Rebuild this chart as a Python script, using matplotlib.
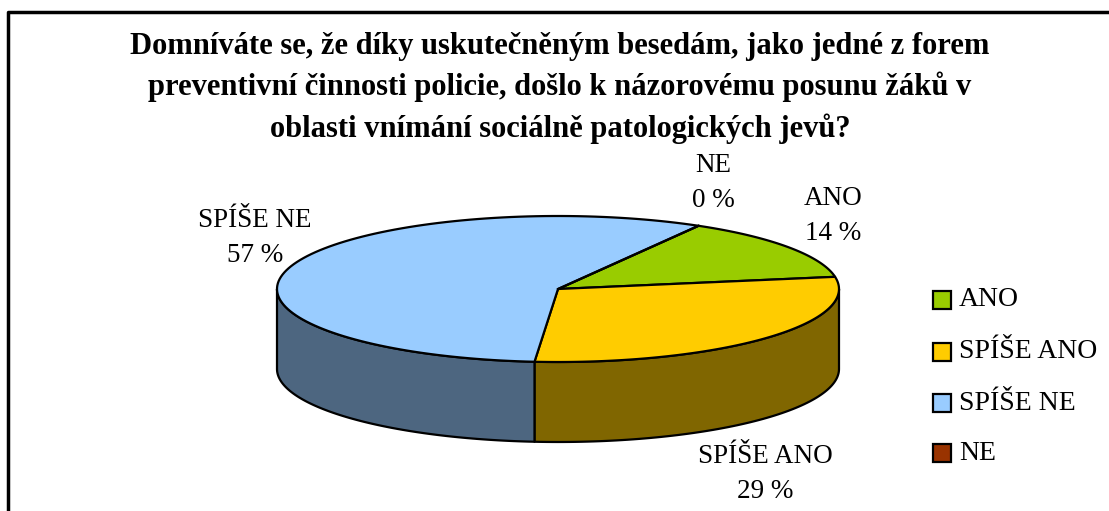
import numpy as np
import matplotlib
matplotlib.use('Agg')
import matplotlib.pyplot as plt
from matplotlib.patches import Polygon, Rectangle

plt.rcParams['font.family'] = ['Liberation Serif', 'DejaVu Serif']

# data
labels = ['ANO', 'SPÍŠE ANO', 'SPÍŠE NE', 'NE']
values = [14, 29, 57, 0]
top_colors = ['#99CC00', '#FFCC00', '#99CCFF', '#993300']
side_colors = ['#4D6600', '#806600', '#4D6680', '#4D1A00']
title = ('Domníváte se, že díky uskutečněným besedám, jako jedné z forem\n'
         'preventivní činnosti policie, došlo k názorovému posunu žáků v\n'
         'oblasti vnímání sociálně patologických jevů?')

# pie geometry (pixels)
cx, cy = 558, 289
rx, ry = 281, 73
depth = 80
start = 60.0

fig = plt.figure(figsize=(11.09, 5.11), dpi=100)
ax = fig.add_axes([0, 0, 1, 1])
ax.set_xlim(0, 1109)
ax.set_ylim(511, 0)
ax.axis('off')

def pt(a, dy=0):
    r = np.radians(a)
    return cx + rx * np.cos(r), cy - ry * np.sin(r) + dy

total = sum(values)
angles = []
a = start
for v in values:
    a2 = a - 360.0 * v / total
    angles.append((a, a2))
    a = a2

# side walls (front half only: angles between -180 and 0)
for (a1, a2), col in zip(angles, side_colors):
    lo, hi = a2, a1
    for shift in (0, -360, 360):
        l, h = max(lo + shift, -180), min(hi + shift, 0)
        if h > l:
            th = np.linspace(h, l, 80)
            top = [pt(t) for t in th]
            bot = [pt(t, depth) for t in th[::-1]]
            ax.add_patch(Polygon(top + bot, closed=True, fc=col, ec='black',
                                 lw=1.6, joinstyle='round'))

# top face
for (a1, a2), col, v in zip(angles, top_colors, values):
    if v == 0:
        continue
    th = np.linspace(a1, a2, 120)
    verts = [(cx, cy)] + [pt(t) for t in th]
    ax.add_patch(Polygon(verts, closed=True, fc=col, ec='black', lw=1.6,
                         joinstyle='round'))
# zero slice edge
for (a1, a2), v in zip(angles, values):
    if v == 0:
        x, y = pt(a1)
        ax.plot([cx, x], [cy, y], color='black', lw=1.6)

# data labels
label_pos = [(833, 216), (765, 474), (255, 238), (713, 183)]
for lab, v, (x, y) in zip(labels, values, label_pos):
    ax.text(x, y, f'{lab}\n{v} %', ha='center', va='center', fontsize=19.5,
            linespacing=1.55)

# title
ax.text(560, 88, title, ha='center', va='center', fontsize=22,
        fontweight='bold', linespacing=1.45)

# legend
leg_y = [300, 352, 403, 453]
for lab, col, y in zip(labels, top_colors, leg_y):
    ax.add_patch(Rectangle((933, y - 9), 18, 18, fc=col, ec='black', lw=1.6))
    ax.text(959, y, lab, ha='left', va='center', fontsize=20)

# chart border
ax.plot([8, 8, 1109], [511, 12, 12], color='black', lw=2.5)

fig.savefig('out.png', dpi=100)
